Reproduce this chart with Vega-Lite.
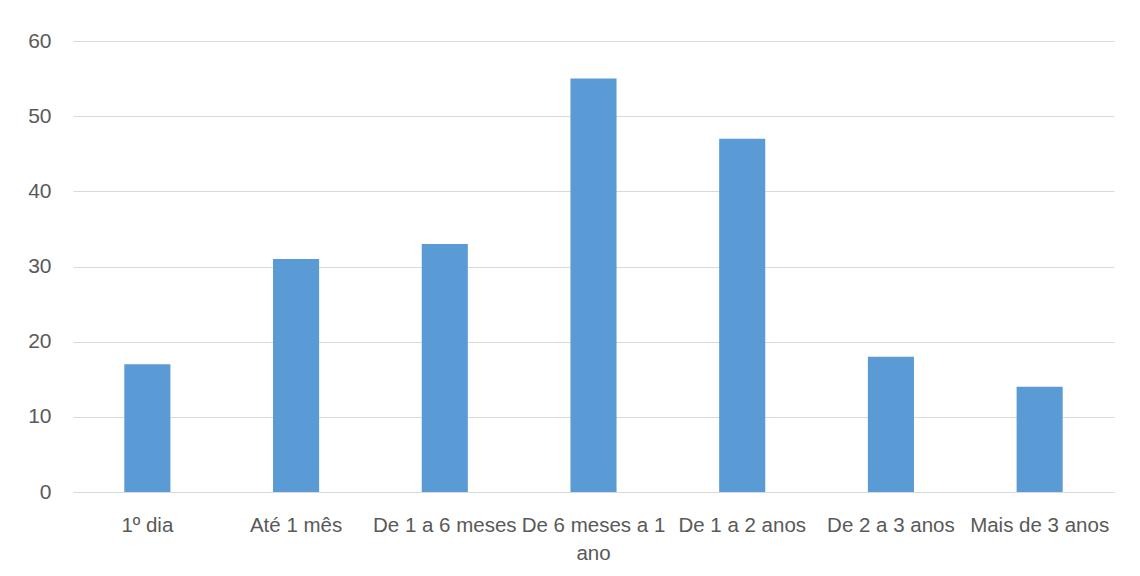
{
  "$schema": "https://vega.github.io/schema/vega-lite/v6.json",
  "autosize": "none",
  "width": 1041,
  "height": 451,
  "padding": {"left": 73, "top": 41, "right": 26, "bottom": 84},
  "background": "white",
  "config": {
    "view": {"stroke": null},
    "font": "Liberation Sans, sans-serif"
  },
  "data": {
    "values": [
      {"periodo": "1º dia", "valor": 17},
      {"periodo": "Até 1 mês", "valor": 31},
      {"periodo": "De 1 a 6 meses", "valor": 33},
      {"periodo": "De 6 meses a 1 ano", "valor": 55},
      {"periodo": "De 1 a 2 anos", "valor": 47},
      {"periodo": "De 2 a 3 anos", "valor": 18},
      {"periodo": "Mais de 3 anos", "valor": 14}
    ]
  },
  "mark": {"type": "bar", "color": "#5b9bd5"},
  "encoding": {
    "x": {
      "field": "periodo",
      "type": "nominal",
      "sort": null,
      "title": null,
      "scale": {"paddingInner": 0.69, "paddingOuter": 0.345},
      "axis": {
        "labelAngle": 0,
        "labelFontSize": 20.5,
        "labelColor": "#595959",
        "labelPadding": 23,
        "labelLineHeight": 28,
        "labelBaseline": "top",
        "labelLimit": 200,
        "ticks": false,
        "domainColor": "#d9d9d9",
        "labelExpr": "datum.label == 'De 6 meses a 1 ano' ? ['De 6 meses a 1', 'ano'] : datum.label"
      }
    },
    "y": {
      "field": "valor",
      "type": "quantitative",
      "title": null,
      "scale": {"domain": [0, 60]},
      "axis": {
        "values": [0, 10, 20, 30, 40, 50, 60],
        "labelFontSize": 21,
        "labelColor": "#595959",
        "labelPadding": 22,
        "ticks": false,
        "domain": false,
        "gridColor": "#d9d9d9",
        "gridWidth": 1
      }
    }
  }
}
